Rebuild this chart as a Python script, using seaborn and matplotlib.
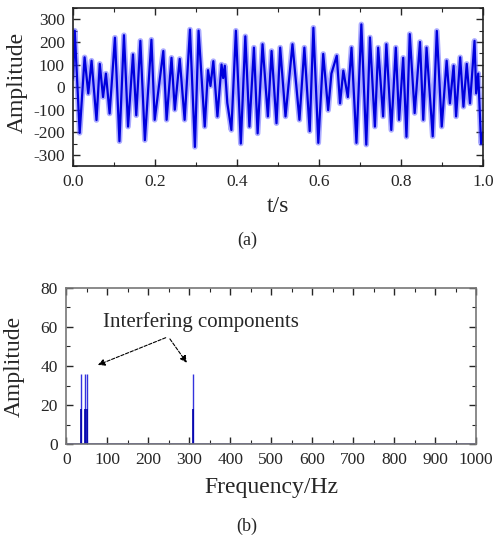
import numpy as np
import pandas as pd
import matplotlib
matplotlib.use("Agg")
import matplotlib.pyplot as plt
from matplotlib.ticker import MultipleLocator, FormatStrFormatter
import seaborn as sns

# time signal: extrema
t_s = [0.000, 0.004, 0.016, 0.028, 0.037, 0.045, 0.057, 0.065, 0.073, 0.080,
       0.089, 0.102, 0.113, 0.124, 0.134, 0.146, 0.154, 0.164, 0.175, 0.191,
       0.199, 0.220, 0.228, 0.240, 0.248, 0.260, 0.272, 0.285, 0.297, 0.306,
       0.321, 0.329, 0.335, 0.342, 0.352, 0.362, 0.366, 0.370, 0.376, 0.386,
       0.397, 0.409, 0.420, 0.430, 0.441, 0.450, 0.462, 0.475, 0.484, 0.496,
       0.505, 0.518, 0.535, 0.552, 0.564, 0.577, 0.586, 0.598, 0.610, 0.622,
       0.630, 0.643, 0.651, 0.659, 0.670, 0.679, 0.691, 0.703, 0.715, 0.724,
       0.736, 0.744, 0.756, 0.764, 0.776, 0.787, 0.795, 0.805, 0.813, 0.821,
       0.833, 0.846, 0.854, 0.862, 0.877, 0.887, 0.899, 0.911, 0.919, 0.928,
       0.934, 0.944, 0.952, 0.960, 0.968, 0.979, 0.983, 0.988, 0.995, 1.000]
amp_t = [40, 250, -203, 132, -28, 117, -146, 103, -44, 60,
         -117, 219, -240, 230, -175, 145, -125, 205, -235, 210,
         -145, 160, -145, 130, -100, 125, -145, 255, -265, 250,
         -175, 75, 5, 115, -130, 100, 40, 95, -70, -190,
         250, -250, 225, -175, 175, -205, 190, -130, 160, -160,
         175, -130, 190, -145, 175, -195, 263, -247, 147, -102,
         60, 139, -72, 73, -44, 175, -247, 278, -255, 220,
         -175, 175, -130, 190, -190, 175, -145, 130, -220, 235,
         -115, 200, -145, 175, -218, 249, -175, 117, -72, 95,
         -130, 132, -87, 103, -72, 205, -28, 60, -250, -200]

# spectrum lines
freqs = [35, 45, 50, 310]
amps = [36, 36, 36, 36]
amps_low = [18, 18, 18, 18]

sns.set_theme(style="ticks")
plt.rcParams['font.family'] = ['Liberation Serif', 'DejaVu Serif']
plt.rcParams['axes.unicode_minus'] = False
plt.rcParams['xtick.direction'] = 'in'
plt.rcParams['ytick.direction'] = 'in'

fig = plt.figure(figsize=(4.94, 5.41), dpi=100)
ax1 = fig.add_axes([0.148, 0.693, 0.830, 0.292])
ax2 = fig.add_axes([0.134, 0.179, 0.830, 0.289])

df = pd.DataFrame({"t": t_s, "amp": amp_t})
sns.lineplot(data=df, x="t", y="amp", ax=ax1, color="#5a5aff", lw=4.0, alpha=0.5)
sns.lineplot(data=df, x="t", y="amp", ax=ax1, color="#0000dd", lw=1.6)
ax1.set_xlim(0, 1)
ax1.set_ylim(-350, 350)
ax1.xaxis.set_major_locator(MultipleLocator(0.2))
ax1.xaxis.set_minor_locator(MultipleLocator(0.1))
ax1.yaxis.set_major_locator(MultipleLocator(100))
ax1.yaxis.set_minor_locator(MultipleLocator(50))
ax1.xaxis.set_major_formatter(FormatStrFormatter('%.1f'))
ax1.set_xlabel("t/s", fontsize=17)
ax1.set_ylabel("Amplitude", fontsize=17)
ax1.xaxis.set_label_coords(0.5, -0.19)
ax1.yaxis.set_label_coords(-0.11, 0.53)

ax2.axhline(0, color="#5555cc", lw=1.2)
ax2.vlines(freqs, 0, amps, color="#3333dd", lw=1.0)
ax2.vlines(freqs, 0, amps_low, color="#0000aa", lw=1.2)
ax2.set_xlim(0, 1000)
ax2.set_ylim(0, 80)
ax2.xaxis.set_major_locator(MultipleLocator(100))
ax2.xaxis.set_minor_locator(MultipleLocator(50))
ax2.yaxis.set_major_locator(MultipleLocator(20))
ax2.yaxis.set_minor_locator(MultipleLocator(10))
ax2.set_xlabel("Frequency/Hz", fontsize=17)
ax2.set_ylabel("Amplitude", fontsize=17)
ax2.xaxis.set_label_coords(0.5, -0.21)
ax2.yaxis.set_label_coords(-0.10, 0.5)
ax2.text(90, 62.5, "Interfering components", fontsize=15, va="center")
for tx, ty in [(71, 40), (298, 40.5)]:
    ax2.annotate("", xy=(tx, ty), xytext=(249, 55),
                 arrowprops=dict(arrowstyle="-|>", color="black", lw=0.8,
                                 ls=(0, (3, 1.5)), mutation_scale=10))

for ax in (ax1, ax2):
    ax.tick_params(which='both', top=True, right=True, labelsize=12.5, pad=6)
    ax.tick_params(which='major', length=5, width=1)
    ax.tick_params(which='minor', length=3, width=0.8)
    for s in ax.spines.values():
        s.set_linewidth(1.2)
        s.set_color("#222222")
for s in ax2.spines.values():
    s.set_color("#777777")

fig.text(0.5, 1 - 240 / 541, "(a)", ha="center", va="center", fontsize=13)
fig.text(0.5, 1 - 526 / 541, "(b)", ha="center", va="center", fontsize=13)

fig.savefig("out.png", dpi=100)
